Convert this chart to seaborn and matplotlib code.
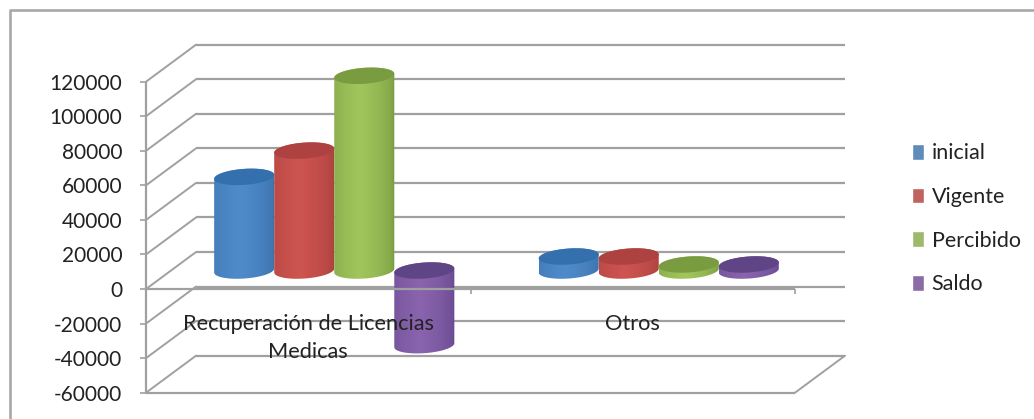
import numpy as np
import pandas as pd
import matplotlib
matplotlib.use("Agg")
import matplotlib.pyplot as plt
import seaborn as sns
from matplotlib.lines import Line2D
from matplotlib.patches import PathPatch, Polygon
from matplotlib.path import Path

categorias = ["Recuperación de Licencias\nMedicas", "Otros"]
series = ["inicial", "Vigente", "Percibido", "Saldo"]
inicial = [54200, 8100]
vigente = [69400, 8100]
percibido = [112700, 3500]
saldo = [-43200, 3500]
y_ticks = [120000, 100000, 80000, 60000, 40000, 20000, 0, -20000, -40000, -60000]

# colours: edge of the cylinder, middle of the cylinder, top cap
colores = {
    "inicial": ("#3A6FA8", "#4F8BCB", "#3570AE"),
    "Vigente": ("#A83F3C", "#CE5450", "#AE4240"),
    "Percibido": ("#76983F", "#A2C65C", "#7A9C40"),
    "Saldo": ("#64478C", "#8A64AE", "#5F4585"),
}
gris = "#A0A0A0"

W, H = 1034, 419
sns.set_theme(style="white")
plt.rcParams["font.family"] = ["Lato", "DejaVu Sans"]
fig = plt.figure(figsize=(W / 100, H / 100), dpi=100)
# the outer frame only shows on the top and left, the picture is cropped on the other two sides
fig.add_artist(Line2D([9.5 / W, 9.5 / W, 1], [0, 1 - 10.5 / H, 1 - 10.5 / H], transform=fig.transFigure,
                      color="#A8A8A8", linewidth=1.9))


# front plane is 146..795 px wide and 81.7..392.7 px high, depth planes are just shifted copies
def plano(dx, dy, z):
    a = fig.add_axes([(146 + dx) / W, 1 - (392.7 - dy) / H, 649 / W, 311 / H], zorder=z)
    a.set_xlim(-0.5, 1.5)
    a.set_ylim(-60000, 120000)
    a.patch.set_alpha(0)
    sns.despine(ax=a, left=True, bottom=True)
    a.set_xlabel("")
    a.set_ylabel("")
    return a


ax_fondo = plano(50, 37, 0)
ax_barras = plano(26, 18.5, 1)
ax = plano(0, 0, 2)

# back wall
ax_fondo.set_xticks([])
ax_fondo.set_yticks([])
ax_fondo.hlines(y_ticks, -0.5, 1.5, color=gris, linewidth=1.6, clip_on=False)

# bars
df = pd.DataFrame({
    "categoria": categorias * 4,
    "serie": np.repeat(series, 2),
    "valor": inicial + vigente + percibido + saldo,
})
sns.barplot(data=df, x="categoria", y="valor", hue="serie", hue_order=series,
            palette=[colores[s][1] for s in series], width=0.74, gap=0, errorbar=None, ax=ax_barras)

px_x = 2 / 649
px_y = 180000 / 311
ry = 8 * px_y
giro = 2 * px_y


def elipse(xc, yc, rx, t):
    return np.column_stack([xc + rx * np.cos(t), yc + ry * np.sin(t) + giro * np.cos(t)])


z = 3
for nombre, cont in zip(series, ax_barras.containers):
    borde, medio, tapa = colores[nombre]
    b_rgb = np.array(matplotlib.colors.to_rgb(borde))
    m_rgb = np.array(matplotlib.colors.to_rgb(medio))
    for rect in cont:
        rect.set_visible(False)
        rx = rect.get_width() / 2
        xc = rect.get_x() + rx
        alto = rect.get_height() + rect.get_y()
        arriba, abajo = max(alto, rect.get_y()), min(alto, rect.get_y())
        cuerpo = np.vstack([elipse(xc, abajo, rx, np.linspace(np.pi, 2 * np.pi, 40)),
                            elipse(xc, arriba, rx, np.linspace(0, np.pi, 40))])
        # horizontal shading, lighter a bit left of the middle
        s = np.linspace(0, 1, 60)
        k = np.clip(1 - np.abs(s - 0.42) / 0.58, 0, 1) ** 0.5
        grad = (b_rgb[None, :] * (1 - k[:, None]) + m_rgb[None, :] * k[:, None])[None, :, :]
        img = ax_barras.imshow(grad, extent=[xc - rx, xc + rx, abajo - 2 * ry, arriba + 2 * ry],
                               aspect="auto", zorder=z, interpolation="bilinear")
        clip = PathPatch(Path(np.vstack([cuerpo, cuerpo[:1]])), transform=ax_barras.transData,
                         facecolor="none", edgecolor="none")
        ax_barras.add_patch(clip)
        img.set_clip_path(clip)
        ax_barras.add_patch(Polygon(elipse(xc, arriba, rx, np.linspace(0, 2 * np.pi, 80)),
                                    facecolor=tapa, edgecolor="none", zorder=z + 0.5))
        z += 1

ax_barras.set_xlim(-0.5, 1.5)
ax_barras.set_ylim(-60000, 120000)
ax_barras.set_xticks([])
ax_barras.set_yticks([])
ax_barras.set_xlabel("")
ax_barras.set_ylabel("")
ax_barras.set_aspect("auto")
sns.move_legend(ax_barras, "upper left", bbox_to_anchor=(893 / W, 1 - 124 / H),
                bbox_transform=fig.transFigure, frameon=False, title=None, fontsize=15.5,
                labelspacing=1.1, handlelength=0.52, handleheight=0.75, handletextpad=0.37,
                labelcolor="#222222")

# front plane: axis, zero line, floor, side wall
ax.set_yticks(y_ticks)
ax.set_yticklabels([str(t) for t in y_ticks], fontsize=15, color="#222222")
ax.tick_params(axis="y", left=True, length=4, width=1.2, color=gris, pad=13)
ax.set_xticks([])
ax.vlines(-0.5, -60000, 120000, color=gris, linewidth=1.6, clip_on=False)
ax.hlines([0, -60000], -0.5, 1.5, color=gris, linewidth=1.6, clip_on=False)
ax.vlines([0.5, 1.5], -2600, 0, color=gris, linewidth=1.2, clip_on=False)
prof_x = 50 * px_x
prof_y = 37 * px_y
for t in y_ticks:
    ax.plot([-0.5, -0.5 + prof_x], [t, t + prof_y], color=gris, linewidth=1.4, clip_on=False)
ax.plot([1.5, 1.5 + prof_x], [-60000, -60000 + prof_y], color=gris, linewidth=1.4, clip_on=False)

# category labels sit right over the bars
for i, c in enumerate(categorias):
    ax.text(i, -14200, c, ha="center", va="top", fontsize=15.7, color="#222222",
            linespacing=1.5, clip_on=False)

fig.savefig("out.png", dpi=100, facecolor="white")
